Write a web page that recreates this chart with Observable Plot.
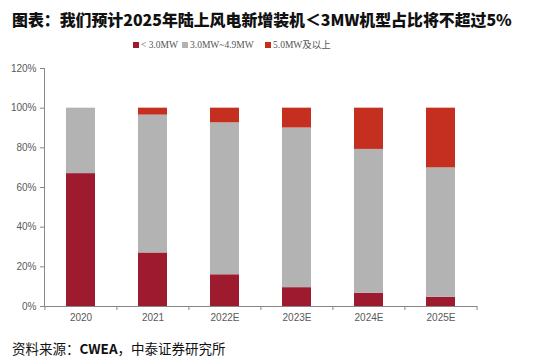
<!DOCTYPE html>
<html>
<head>
<meta charset="utf-8">
<script src="https://cdn.jsdelivr.net/npm/d3@7"></script>
<script src="https://cdn.jsdelivr.net/npm/@observablehq/plot@0.6"></script>
<style>
  html, body { margin: 0; padding: 0; background: #fff; }
  #wrap { position: relative; width: 552px; height: 357px; overflow: hidden; }
  #title { position: absolute; left: 12px; top: 8px; font-family: "Noto Sans CJK SC", sans-serif; font-weight: 900; font-size: 15.9px; color: #111; white-space: nowrap; line-height: 24px; }
  #legend { position: absolute; left: 0; top: 37px; width: 552px; height: 16px; font-family: "Liberation Serif", "Noto Sans CJK SC", serif; font-size: 9.5px; color: #555; }
  .item { position: absolute; top: 0; line-height: 16px; white-space: nowrap; }
  .sw { display: inline-block; width: 6px; height: 6px; margin-right: 2px; vertical-align: 0px; }
  #chart { position: absolute; left: 0; top: 58px; }
  #caption { position: absolute; left: 12px; top: 338px; font-family: "Noto Sans CJK SC", sans-serif; font-size: 13.5px; color: #111; white-space: nowrap; line-height: 20px; }
</style>
</head>
<body>
<div id="wrap">
  <div id="title">图表：我们预计2025年陆上风电新增装机＜3MW机型占比将不超过5%</div>
  <div id="legend"></div>
  <div id="chart"></div>
  <div id="caption">资料来源：<b>CWEA</b>，中泰证券研究所</div>
</div>
<script>
const years = ["2020", "2021", "2022E", "2023E", "2024E", "2025E"];
const seriesNames = ["< 3.0MW", "3.0MW~4.9MW", "5.0MW及以上"];
const small = [67, 27, 16, 9.5, 6.6, 4.6];
const mid = [33, 69.5, 76.6, 80.5, 72.6, 65.3];
const large = [0, 3.5, 7.4, 10, 20.8, 30.1];
const yTicks = [0, 20, 40, 60, 80, 100, 120];
const colors = ["#9e1a2e", "#b3b3b3", "#c42f20"];

const seriesValues = [small, mid, large];
const table = [];
seriesNames.forEach((s, si) => years.forEach((yr, i) => table.push({series: s, year: yr, value: seriesValues[si][i]})));

// legend
const legendX = [133, 182, 265];
const legend = document.getElementById("legend");
seriesNames.forEach((s, i) => {
  const d = document.createElement("div");
  d.className = "item";
  d.style.left = legendX[i] + "px";
  d.innerHTML = `<span class="sw" style="background:${colors[i]}"></span>${s}`;
  legend.appendChild(d);
});

const W = 552, H = 275, ML = 44, MR = 75;
const step = (W - ML - MR) / years.length;

const plot = Plot.plot({
  width: W,
  height: H,
  marginLeft: ML,
  marginRight: MR,
  marginTop: 10,
  marginBottom: 27,
  style: {fontFamily: "'Liberation Sans', Arial, sans-serif", fontSize: "10px", color: "#595959", background: "#fff"},
  x: {domain: years, paddingInner: 0.6, paddingOuter: 0.3, label: null},
  y: {domain: [0, 120], label: null},
  color: {domain: seriesNames, range: colors},
  marks: [
    Plot.barY(table, {x: "year", y: "value", fill: "series"}),
    Plot.axisY({ticks: yTicks, tickFormat: d => d + "%", tickSize: 4, tickPadding: 4, stroke: "#888", fill: "#595959", fontSize: 10}),
    Plot.axisX({tickSize: 0, tickPadding: 7, fill: "#595959", fontSize: 10}),
    Plot.frame({anchor: "left", stroke: "#888"}),
    Plot.ruleY([0], {stroke: "#888"}),
    Plot.ruleX(years, {x: d => d, dx: -step / 2, y1: 0, y2: 0, insetBottom: -4, stroke: "#888"}),
    Plot.ruleX(years.slice(-1), {x: d => d, dx: step / 2, y1: 0, y2: 0, insetBottom: -4, stroke: "#888"})
  ]
});
document.getElementById("chart").appendChild(plot);
</script>
</body>
</html>
